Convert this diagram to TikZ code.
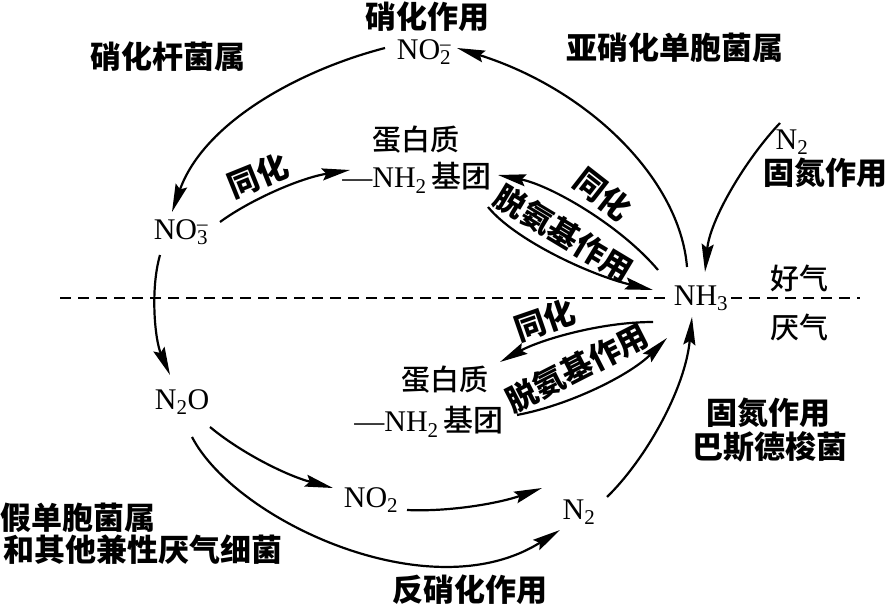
\documentclass[tikz,border=0pt]{standalone}
\usepackage{fontspec}
\setmainfont{Liberation Serif}
\newfontfamily\cjk{Noto Sans CJK SC}
\newfontfamily\cjkm{Noto Sans CJK SC Medium}
\usetikzlibrary{arrows.meta}
\newcommand\chemion[2]{\textsubscript{#1}\llap{\textsuperscript{#2}}}
\tikzset{
  bz/.style={font=\cjk\bfseries\fontsize{31}{33}\selectfont, inner sep=0pt},
  sz/.style={font=\cjkm\fontsize{29}{31}\selectfont, inner sep=0pt},
  chem/.style={font=\fontsize{30}{32}\selectfont, inner sep=0pt},
  arr/.style={line width=2.2pt, -{Stealth[length=28pt,width=12pt,inset=4pt]}},
  dashline/.style={line width=2pt, dash pattern=on 11pt off 7pt}
}
\begin{document}
\begin{tikzpicture}[x=1pt,y=-1pt]
\useasboundingbox (0,0) rectangle (888,607);
% texts
\node[bz] (tnitr) at (427,17) {硝化作用};
\node[chem] (no2m) at (424,52) {NO\chemion{2}{–}};
\node[bz] (yaxiao) at (675,48) {亚硝化单胞菌属};
\node[bz] (xiaogan) at (168,57) {硝化杆菌属};
\node[sz] (prot1) at (416,140) {蛋白质};
\node[chem] (nh2a) at (417,178) {—NH\textsubscript{2}\,{\cjkm 基团}};
\node[chem] (no3m) at (181,232) {NO\chemion{3}{–}};
\node[chem] (n2r) at (792,142) {N\textsubscript{2}};
\node[bz] (gudan1) at (825,173) {固氮作用};
\node[chem] (nh3) at (701,298) {NH\textsubscript{3}};
\node[sz] (haoqi) at (799,278) {好气};
\node[sz] (yanqi) at (799,327) {厌气};
\node[sz] (prot2) at (445,380) {蛋白质};
\node[chem] (nh2b) at (429,422) {—NH\textsubscript{2}\,{\cjkm 基团}};
\node[chem] (n2o) at (182,402) {N\textsubscript{2}O};
\node[chem] (no2) at (371,500) {NO\textsubscript{2}};
\node[chem] (n2b) at (579,512) {N\textsubscript{2}};
\node[bz] (gudan2) at (768,413) {固氮作用};
\node[bz] (basde) at (770,447) {巴斯德梭菌};
\node[bz] (jiadan) at (78,518) {假单胞菌属};
\node[bz] (heqita) at (143,550) {和其他兼性厌气细菌};
\node[bz] (fanxiao) at (470,590) {反硝化作用};
\node[bz,rotate=22] (tonghua1) at (258,176) {同化};
\node[bz,rotate=-38] (tonghua2) at (603,194) {同化};
\node[bz,rotate=-31] (tuoan1) at (564,233) {脱氨基作用};
\node[bz,rotate=19] (tonghua3) at (545,320) {同化};
\node[bz,rotate=27] (tuoan2) at (577,368) {脱氨基作用};
% connector end points
\coordinate (no2m-l) at (385,48);
\coordinate (no2m-r) at (457,48);
\coordinate (no3m-t) at (172,212);
\coordinate (no3m-b) at (160,255);
\coordinate (no3m-r) at (220,222);
\coordinate (n2o-t) at (170,375);
\coordinate (n2o-r) at (210,427);
\coordinate (n2o-b) at (192,437);
\coordinate (nh2a-l) at (350,170);
\coordinate (nh2a-r) at (498,175);
\coordinate (nh2a-b) at (488,207);
\coordinate (nh3-tl) at (687,267);
\coordinate (nh3-l1) at (658,270);
\coordinate (nh3-l2) at (653,290);
\coordinate (nh3-l3) at (653,322);
\coordinate (nh3-l4) at (667,338);
\coordinate (nh3-t) at (705,272);
\coordinate (nh3-b) at (692,317);
\coordinate (nh2b-r) at (500,362);
\coordinate (nh2b-b) at (517,415);
\coordinate (n2r-l) at (780,123);
\coordinate (n2b-r) at (607,497);
\coordinate (n2b-l) at (542,488);
\coordinate (n2b-bl) at (560,530);
\coordinate (no2-l) at (333,488);
\coordinate (no2-r) at (407,510);
% connectors
\draw[arr] (no2m-l) .. controls (300,70) and (204,122) .. (no3m-t);
\draw[arr] (nh3-tl) .. controls (680,180) and (590,90) .. (no2m-r);
\draw[arr] (no3m-b) .. controls (150,290) and (155,340) .. (n2o-t);
\draw[arr] (no3m-r) .. controls (250,200) and (300,178) .. (nh2a-l);
\draw[arr] (nh3-l1) .. controls (620,225) and (550,185) .. (nh2a-r);
\draw[arr] (nh2a-b) .. controls (515,240) and (590,275) .. (nh3-l2);
\draw[arr] (nh3-l3) .. controls (600,322) and (540,340) .. (nh2b-r);
\draw[arr] (nh2b-b) .. controls (570,405) and (630,375) .. (nh3-l4);
\draw[arr] (n2r-l) .. controls (745,160) and (710,220) .. (nh3-t);
\draw[arr] (n2b-r) .. controls (645,460) and (685,390) .. (nh3-b);
\draw[arr] (n2o-r) .. controls (240,452) and (285,475) .. (no2-l);
\draw[arr] (no2-r) .. controls (450,512) and (500,503) .. (n2b-l);
\draw[arr] (n2o-b) .. controls (235,520) and (430,612) .. (n2b-bl);
% dashed boundary
\coordinate (dl) at (60,298);
\coordinate (dr) at (860,298);
\draw[dashline] (dl) -- ([xshift=-3pt]nh3.west);
\draw[dashline] ([xshift=3pt]nh3.east) -- (dr);
\end{tikzpicture}
\end{document}
